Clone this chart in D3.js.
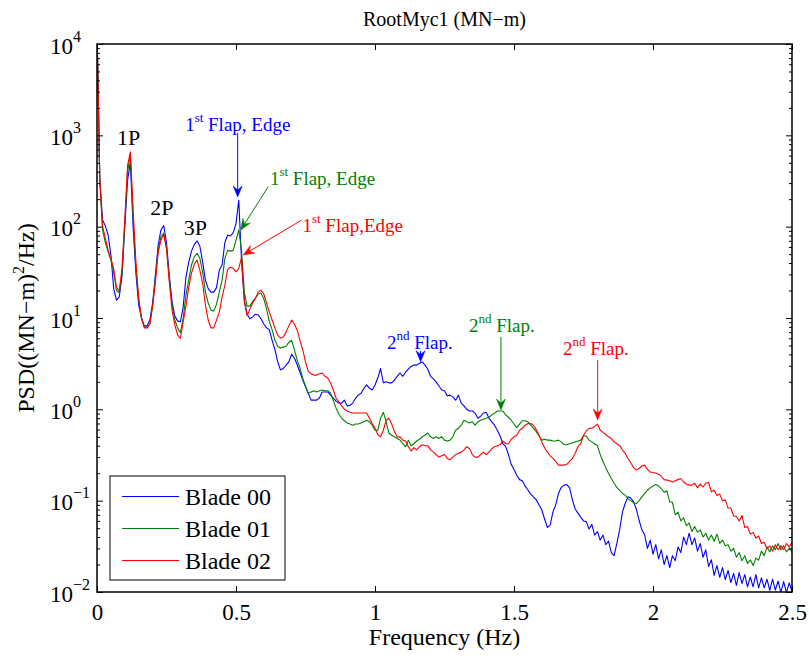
<!DOCTYPE html>
<html>
<head>
<meta charset="utf-8">
<script src="https://cdn.jsdelivr.net/npm/d3@7"></script>
<style>
  body { margin: 0; background: #fff; }
  svg { display: block; }
</style>
</head>
<body>
<svg id="chart" width="809" height="658"></svg>
<script>
// PSD of root bending moment RootMyc1, one value per 0.01 Hz bin (0 .. 2.5 Hz)
const blade00 = [
  15000,340,118,102,81,49,21,15.7,17,28.8,
  100,323,510,97,31,13.8,10,8.2,8.2,9.5,
  14.6,29.5,63,92,103,67,29.5,15,10.5,9.3,
  9.1,13.2,28,41,54,64,70,61,41,26,
  21,19.2,19.2,21.5,33.5,38,67,81,79,86,
  108,195,41,15.7,11,9.8,10.3,11,10.8,9.8,
  8.6,7.8,7.4,5.7,4.5,3.3,2.7,2.8,3.05,3.3,
  4.0,3.65,3.1,2.55,2.1,1.76,1.5,1.26,1.26,1.26,
  1.33,1.55,1.55,1.55,1.43,1.33,1.23,1.17,1.17,1.26,
  1.09,1.11,1.17,1.33,1.43,1.5,1.7,1.85,1.7,1.63,
  1.85,2.2,2.8,1.95,2.0,1.95,1.95,2.09,2.3,2.5,
  2.3,2.55,2.75,2.95,3.05,3.05,3.2,3.3,3.05,2.75,
  2.3,2.15,2.0,1.8,1.63,1.6,1.4,1.43,1.37,1.26,
  1.43,1.17,1.09,1.0,0.96,0.96,0.91,0.8,0.84,0.91,
  0.93,0.8,0.73,0.67,0.59,0.51,0.42,0.39,0.32,0.25,
  0.22,0.19,0.17,0.165,0.145,0.131,0.118,0.11,0.102,0.09,
  0.079,0.063,0.051,0.054,0.075,0.09,0.12,0.14,0.148,0.15,
  0.138,0.102,0.081,0.073,0.066,0.06,0.059,0.049,0.055,0.042,
  0.046,0.037,0.042,0.033,0.036,0.027,0.025,0.034,0.048,0.075,
  0.093,0.11,0.107,0.097,0.081,0.061,0.048,0.042,0.030,0.037,
  0.026,0.033,0.023,0.029,0.020,0.025,0.0185,0.025,0.022,0.031,
  0.027,0.040,0.033,0.044,0.033,0.039,0.028,0.034,0.024,0.029,
  0.019,0.0225,0.0152,0.0195,0.0145,0.0185,0.0137,0.0172,0.0127,0.016,
  0.0118,0.0163,0.0124,0.0155,0.0114,0.0146,0.0114,0.0155,0.0111,0.0143,
  0.0111,0.0138,0.0104,0.0138,0.0105,0.0132,0.0099,0.013,0.0099,0.0126,
  0.0101
];
const blade01 = [
  15000,320,92,67,53,43,32,20,19,30,
  110,400,610,120,35,15.7,10,8.1,7.8,8.6,
  13.2,27,55,78,85,59,27,13.8,9.5,7.8,
  6.9,10,17.8,26,38,47,51,45,32,19.2,
  14.6,12.2,11.9,14.2,19.2,26,45,55,54,55,
  71,92,55,19.2,13.5,13.5,15.2,16.5,18.3,18.8,
  16.2,12.5,9.1,7.4,5.7,4.9,4.7,4.8,4.9,5.4,
  5.7,4.5,3.46,2.85,2.2,1.8,1.5,1.55,1.6,1.55,
  1.6,1.63,1.6,1.6,1.5,1.26,1.03,0.89,0.8,0.75,
  0.71,0.69,0.67,0.69,0.69,0.71,0.73,0.76,0.73,0.67,
  0.59,0.59,0.8,0.93,0.73,0.55,0.52,0.5,0.48,0.46,
  0.42,0.39,0.46,0.4,0.42,0.45,0.47,0.5,0.52,0.55,
  0.5,0.48,0.5,0.48,0.5,0.46,0.45,0.46,0.5,0.59,
  0.62,0.67,0.76,0.73,0.71,0.73,0.67,0.73,0.76,0.78,
  0.8,0.82,0.87,0.91,0.96,0.96,0.96,0.87,0.82,0.76,
  0.69,0.63,0.69,0.75,0.75,0.73,0.67,0.62,0.57,0.51,
  0.46,0.47,0.46,0.46,0.45,0.45,0.46,0.44,0.41,0.41,
  0.42,0.43,0.44,0.45,0.46,0.51,0.51,0.46,0.44,0.42,
  0.4,0.32,0.27,0.23,0.2,0.175,0.155,0.14,0.13,0.12,
  0.115,0.105,0.1,0.095,0.093,0.1,0.11,0.12,0.13,0.138,
  0.145,0.15,0.145,0.135,0.124,0.128,0.097,0.096,0.07,0.075,
  0.06,0.065,0.053,0.057,0.046,0.052,0.045,0.048,0.04,0.044,
  0.037,0.042,0.036,0.043,0.034,0.037,0.032,0.033,0.028,0.030,
  0.024,0.027,0.022,0.025,0.0205,0.0225,0.0195,0.0235,0.0223,0.028,
  0.025,0.031,0.0275,0.032,0.029,0.034,0.029,0.032,0.0275,0.030,
  0.0275
];
const blade02 = [
  15000,330,101,75,55,45,35,21.5,20,35,
  120,470,660,150,41,16.5,10,7.8,7.8,8.6,
  13.8,24.7,52,71,83,58,25,12.2,8.4,6.5,
  6.0,9.1,13.5,21.8,31,39,43,33.5,24,13.8,
  9.5,7.8,7.8,9.5,11.6,17,22.9,34,36,35,
  32,35,46,15,10.6,12.5,14.6,16.5,19.2,20.2,
  18.3,14.6,11.6,9.5,7.8,6.5,6.0,6.2,7.0,8.2,
  9.5,8.6,7.4,5.7,4.5,3.3,2.6,2.45,2.37,2.37,
  2.45,2.5,2.3,2.2,1.95,1.63,1.33,1.2,1.09,1.0,
  0.96,0.93,0.91,0.91,0.91,0.91,0.91,0.91,0.8,0.7,
  0.62,0.53,0.5,0.59,0.76,0.8,0.69,0.57,0.5,0.5,
  0.46,0.45,0.39,0.35,0.38,0.36,0.39,0.41,0.4,0.4,
  0.36,0.34,0.32,0.3,0.31,0.32,0.29,0.28,0.3,0.32,
  0.33,0.34,0.36,0.39,0.37,0.32,0.3,0.3,0.32,0.34,
  0.32,0.34,0.37,0.39,0.4,0.41,0.45,0.42,0.42,0.47,
  0.5,0.52,0.59,0.62,0.67,0.7,0.7,0.67,0.6,0.52,
  0.44,0.38,0.34,0.31,0.29,0.27,0.245,0.245,0.245,0.25,
  0.27,0.29,0.33,0.39,0.42,0.52,0.58,0.62,0.62,0.65,
  0.69,0.59,0.56,0.53,0.5,0.48,0.44,0.42,0.4,0.36,
  0.33,0.29,0.26,0.23,0.216,0.225,0.24,0.245,0.22,0.205,
  0.205,0.2,0.195,0.185,0.17,0.168,0.165,0.16,0.165,0.17,
  0.175,0.16,0.152,0.148,0.148,0.155,0.138,0.152,0.141,0.155,
  0.158,0.125,0.13,0.114,0.118,0.1,0.102,0.083,0.083,0.068,
  0.067,0.06,0.069,0.051,0.052,0.043,0.045,0.039,0.041,0.034,
  0.035,0.03,0.032,0.028,0.033,0.029,0.032,0.029,0.034,0.031,
  0.035
];
const freqHz = d3.range(blade00.length).map(i => i / 100);

const seriesNames = ["Blade 00", "Blade 01", "Blade 02"];
const seriesColors = ["#0000ff", "#008000", "#ff0000"];
const seriesValues = [blade00, blade01, blade02];

const xTicks = [0, 0.5, 1, 1.5, 2, 2.5];
const xTickLabels = ["0", "0.5", "1", "1.5", "2", "2.5"];
const yTickExponents = [-2, -1, 0, 1, 2, 3, 4];

// Mode annotations: text anchor (Hz, PSD) and arrow from -> to (Hz, PSD)
const peakLabels = [
  { text: "1P", f: 0.114, v: 783 },
  { text: "2P", f: 0.233, v: 134 },
  { text: "3P", f: 0.354, v: 81 }
];
const modeNotes = [
  { ord: "1", sup: "st", rest: " Flap, Edge", color: 0, f: 0.317, v: 1115, from: [0.506, 1062], to: [0.506, 211] },
  { ord: "1", sup: "st", rest: " Flap, Edge", color: 1, f: 0.622, v: 286,  from: [0.616, 274],  to: [0.517, 92] },
  { ord: "1", sup: "st", rest: " Flap,Edge",  color: 2, f: 0.739, v: 87.4, from: [0.736, 118],  to: [0.526, 49] },
  { ord: "2", sup: "nd", rest: " Flap.",      color: 0, f: 1.043, v: 4.57, from: [1.164, 4.35], to: [1.164, 3.32] },
  { ord: "2", sup: "nd", rest: " Flap.",      color: 1, f: 1.338, v: 7.02, from: [1.453, 6.2],  to: [1.453, 0.982] },
  { ord: "2", sup: "nd", rest: " Flap.",      color: 2, f: 1.676, v: 3.93, from: [1.801, 3.47], to: [1.801, 0.763] }
];

const FONT = '"Liberation Serif", "Times New Roman", Times, serif';
const plot = { left: 97, right: 792, top: 44, bottom: 592 };

const x = d3.scaleLinear().domain([0, 2.5]).range([plot.left, plot.right]);
const y = d3.scaleLog().domain([1e-2, 1e4]).range([plot.bottom, plot.top]);

const svg = d3.select("#chart").attr("font-family", FONT);

// clip region for the spectra
svg.append("defs").append("clipPath").attr("id", "plotClip")
  .append("rect")
  .attr("x", plot.left).attr("y", plot.top)
  .attr("width", plot.right - plot.left).attr("height", plot.bottom - plot.top);

// spectra
const line = d3.line()
  .x((d, i) => x(freqHz[i]))
  .y(d => y(d));

const curves = svg.append("g").attr("clip-path", "url(#plotClip)");
seriesValues.forEach((vals, k) => {
  curves.append("path")
    .datum(vals)
    .attr("d", line)
    .attr("fill", "none")
    .attr("stroke", seriesColors[k])
    .attr("stroke-width", 1.1)
    .attr("stroke-linejoin", "round");
});

// axes: major/minor ticks pointing inward on all four sides
const majorY = yTickExponents.map(e => Math.pow(10, e));
const minorY = [];
for (let e = -2; e < 4; e++) for (let m = 2; m <= 9; m++) minorY.push(m * Math.pow(10, e));

function styleAxis(g) {
  g.attr("font-family", FONT).attr("font-size", 23);
  g.select(".domain").remove();
  g.selectAll(".tick line").attr("stroke", "#000").attr("stroke-width", 1);
}

svg.append("g").attr("transform", `translate(0,${plot.bottom})`)
  .call(d3.axisBottom(x).tickValues(xTicks).tickSizeInner(-6).tickSizeOuter(0)
    .tickPadding(11.5).tickFormat((d, i) => xTickLabels[i]))
  .call(styleAxis)
  .selectAll("text").attr("fill", "#000");

svg.append("g").attr("transform", `translate(0,${plot.top})`)
  .call(d3.axisTop(x).tickValues(xTicks).tickSizeInner(-6).tickSizeOuter(0).tickFormat(""))
  .call(styleAxis);

[[d3.axisLeft, plot.left], [d3.axisRight, plot.right]].forEach(([mk, pos]) => {
  svg.append("g").attr("transform", `translate(${pos},0)`)
    .call(mk(y).tickValues(majorY).tickSizeInner(-6).tickSizeOuter(0).tickFormat(""))
    .call(styleAxis);
  svg.append("g").attr("transform", `translate(${pos},0)`)
    .call(mk(y).tickValues(minorY).tickSizeInner(-3).tickSizeOuter(0).tickFormat(""))
    .call(styleAxis);
});

// y tick labels as powers of ten
const yLab = svg.append("g").attr("font-size", 23).attr("fill", "#000");
yTickExponents.forEach(e => {
  const t = yLab.append("text").attr("x", 50).attr("y", y(Math.pow(10, e)) + 9.5);
  t.append("tspan").text("10");
  t.append("tspan").attr("dy", -11.8).attr("font-size", 16)
    .text(e < 0 ? "\u2212" + (-e) : String(e));
});

// axes box
svg.append("rect")
  .attr("x", plot.left).attr("y", plot.top)
  .attr("width", plot.right - plot.left).attr("height", plot.bottom - plot.top)
  .attr("fill", "none").attr("stroke", "#000").attr("stroke-width", 1.5);

// title and axis labels
svg.append("text").attr("x", (plot.left + plot.right) / 2).attr("y", 26)
  .attr("text-anchor", "middle").attr("font-size", 20).text("RootMyc1 (MN\u2212m)");

svg.append("text").attr("x", (plot.left + plot.right) / 2).attr("y", 645)
  .attr("text-anchor", "middle").attr("font-size", 24).text("Frequency (Hz)");

const yl = svg.append("text")
  .attr("transform", `translate(34,${(plot.top + plot.bottom) / 2}) rotate(-90)`)
  .attr("text-anchor", "middle").attr("font-size", 24);
yl.append("tspan").text("PSD((MN\u2212m)");
yl.append("tspan").attr("dy", -10).attr("font-size", 16).text("2");
yl.append("tspan").attr("dy", 10).text("/Hz)");

// harmonic labels
peakLabels.forEach(p => {
  svg.append("text").attr("x", x(p.f)).attr("y", y(p.v))
    .attr("text-anchor", "middle").attr("font-size", 22).text(p.text);
});

// arrows with notched heads
function drawArrow(from, to, color) {
  const x1 = x(from[0]), y1 = y(from[1]), x2 = x(to[0]), y2 = y(to[1]);
  const len = Math.hypot(x2 - x1, y2 - y1);
  const ux = (x2 - x1) / len, uy = (y2 - y1) / len;
  const px = -uy, py = ux;
  const L = 11, Wh = 4.5, notch = 0.65 * L;
  svg.append("line")
    .attr("x1", x1).attr("y1", y1)
    .attr("x2", x2 - ux * notch).attr("y2", y2 - uy * notch)
    .attr("stroke", color).attr("stroke-width", 1);
  const pts = [
    [x2, y2],
    [x2 - ux * L + px * Wh, y2 - uy * L + py * Wh],
    [x2 - ux * notch, y2 - uy * notch],
    [x2 - ux * L - px * Wh, y2 - uy * L - py * Wh]
  ];
  svg.append("path").attr("d", "M" + pts.map(p => p.join(",")).join("L") + "Z")
    .attr("fill", color).attr("stroke", color).attr("stroke-width", 0.5);
}

modeNotes.forEach(n => {
  const c = seriesColors[n.color];
  const t = svg.append("text").attr("x", x(n.f)).attr("y", y(n.v))
    .attr("font-size", 19).attr("fill", c);
  t.append("tspan").text(n.ord);
  t.append("tspan").attr("dy", -9).attr("font-size", 13).text(n.sup);
  t.append("tspan").attr("dy", 9).text(n.rest);
  drawArrow(n.from, n.to, c);
});

// legend
const lg = svg.append("g");
lg.append("rect").attr("x", 110).attr("y", 476).attr("width", 175).attr("height", 104)
  .attr("fill", "#fff").attr("stroke", "#000").attr("stroke-width", 1);
seriesNames.forEach((name, k) => {
  const ly = 496.5 + k * 32;
  lg.append("line").attr("x1", 122).attr("x2", 179).attr("y1", ly).attr("y2", ly)
    .attr("stroke", seriesColors[k]).attr("stroke-width", 1.1);
  lg.append("text").attr("x", 185).attr("y", ly + 8).attr("font-size", 24).text(name);
});
</script>
</body>
</html>
